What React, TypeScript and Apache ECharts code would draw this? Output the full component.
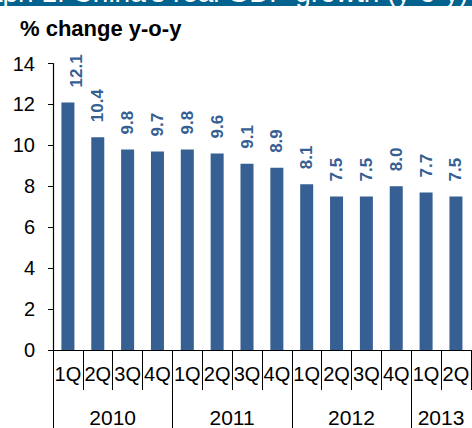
import React, { useEffect, useRef } from "react";
import * as echarts from "echarts";

const quarters = ["1Q", "2Q", "3Q", "4Q", "1Q", "2Q", "3Q", "4Q", "1Q", "2Q", "3Q", "4Q", "1Q", "2Q"];
const quarterYears = ["2010", "2010", "2010", "2010", "2011", "2011", "2011", "2011", "2012", "2012", "2012", "2012", "2013", "2013"];
const growth = [12.1, 10.4, 9.8, 9.7, 9.8, 9.6, 9.1, 8.9, 8.1, 7.5, 7.5, 8.0, 7.7, 7.5];
const yMin = 0;
const yMax = 14;
const yInterval = 2;
const titleText = "% change y-o-y";
const headerText = "Graph 1: China's real GDP growth (y-o-y)";

const FONT = '"Liberation Sans", Arial, sans-serif';
const BAR = "#365f93";

export default function App() {
  const ref = useRef<HTMLDivElement>(null);

  useEffect(() => {
    if (!ref.current) return;
    const chart = echarts.init(ref.current, undefined, { renderer: "svg" });

    // year groups derived from the quarter data
    const years: string[] = [];
    const yearStart: number[] = [];
    const yearCount: number[] = [];
    quarterYears.forEach((y, i) => {
      if (years.length === 0 || years[years.length - 1] !== y) {
        years.push(y);
        yearStart.push(i);
        yearCount.push(1);
      } else {
        yearCount[yearCount.length - 1]++;
      }
    });
    const yearCenters = yearStart.map((s, i) => s + yearCount[i] / 2);
    const catData = quarters.map((q, i) => quarterYears[i] + " " + q);

    chart.setOption({
      animation: false,
      textStyle: { fontFamily: FONT },
      graphic: [
        { type: "rect", shape: { x: 0, y: 0, width: 472, height: 6 }, style: { fill: "#03628e" }, z: 10 },
        {
          type: "text",
          x: 468,
          y: 6,
          z: 11,
          style: { text: headerText, align: "right", verticalAlign: "bottom", fill: "#ffffff", font: '28px "Liberation Sans", Arial, sans-serif' },
        },
        { type: "rect", shape: { x: 0, y: 6, width: 472, height: 10 }, style: { fill: "#ffffff" }, z: 12 },
        {
          type: "text",
          x: 20,
          y: 17,
          z: 13,
          style: { text: titleText, align: "left", verticalAlign: "top", fill: "#000000", font: 'bold 22px "Liberation Sans", Arial, sans-serif' },
        },
      ],
      grid: { left: 53, top: 63.5, bottom: 74.7, right: -6.6 },
      xAxis: [
        {
          type: "category",
          data: catData,
          position: "bottom",
          axisLine: { show: true, lineStyle: { color: "#000", width: 1.2 } },
          axisTick: { show: true, interval: 0, length: 40, lineStyle: { color: "#000", width: 1 } },
          axisLabel: {
            interval: 0,
            margin: 14,
            fontSize: 20,
            color: "#000",
            fontFamily: FONT,
            formatter: (v: string) => v.split(" ")[1],
          },
          splitLine: { show: false },
        },
        {
          type: "value",
          min: 0,
          max: quarters.length,
          position: "bottom",
          axisLine: { show: false },
          axisTick: { show: true, length: 90, customValues: yearStart, lineStyle: { color: "#000", width: 1 } },
          axisLabel: {
            show: true,
            margin: 57,
            fontSize: 21,
            color: "#000",
            fontFamily: FONT,
            customValues: yearCenters,
            formatter: (v: number) => {
              const k = yearCenters.indexOf(v);
              return k >= 0 ? years[k] : "";
            },
          },
          splitLine: { show: false },
        },
      ],
      yAxis: {
        type: "value",
        min: yMin,
        max: yMax,
        interval: yInterval,
        axisLine: { show: true, lineStyle: { color: "#000", width: 1.2 } },
        axisTick: { show: true, length: 5, lineStyle: { color: "#000" } },
        axisLabel: { margin: 18, fontSize: 20, color: "#000", fontFamily: FONT },
        splitLine: { show: false },
      },
      series: [
        {
          type: "bar",
          xAxisIndex: 0,
          data: growth.map((v, i) =>
            i === 0 ? { value: v, label: { position: ["115%", -15] } } : v
          ),
          barWidth: 13,
          itemStyle: { color: BAR },
          label: {
            show: true,
            position: "top",
            distance: 15,
            rotate: 90,
            align: "left",
            verticalAlign: "middle",
            fontSize: 17,
            fontWeight: "bold",
            color: BAR,
            fontFamily: FONT,
            formatter: (p: any) => Number(p.value).toFixed(1),
          },
        },
      ],
    });

    return () => chart.dispose();
  }, []);

  return (
    <div
      ref={ref}
      style={{ position: "absolute", left: 0, top: 0, width: 472, height: 428, background: "#fff" }}
    />
  );
}
